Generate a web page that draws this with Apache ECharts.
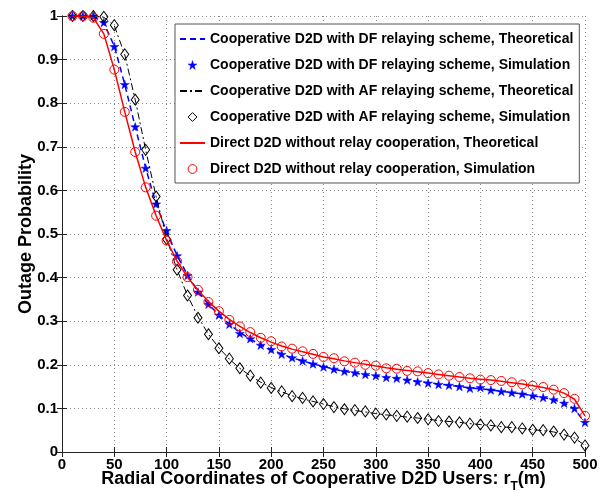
<!DOCTYPE html>
<html>
<head>
<meta charset="utf-8">
<script src="https://cdn.jsdelivr.net/npm/echarts@6/dist/echarts.min.js"></script>
<style>html,body{margin:0;padding:0;background:#fff;}#c{width:610px;height:493px;}</style>
</head>
<body>
<div id="c"></div>
<script>
var xs = [10,20,30,40,50,60,70,80,90,100,110,120,130,140,150,160,170,180,190,200,210,220,230,240,250,260,270,280,290,300,310,320,330,340,350,360,370,380,390,400,410,420,430,440,450,460,470,480,490,500];

var dfSim = [1.0,1.0,1.0,0.985,0.930,0.843,0.746,0.651,0.569,0.508,0.450,0.405,0.367,0.339,0.314,0.293,0.272,0.260,0.245,0.235,0.224,0.216,0.209,0.202,0.195,0.190,0.185,0.182,0.178,0.175,0.171,0.169,0.165,0.161,0.158,0.155,0.153,0.150,0.146,0.148,0.142,0.139,0.136,0.133,0.129,0.125,0.120,0.112,0.100,0.068];
var dfTheory = [1.0,1.0,0.999,0.984,0.931,0.843,0.746,0.651,0.569,0.505,0.451,0.406,0.368,0.339,0.314,0.293,0.274,0.259,0.246,0.235,0.225,0.216,0.209,0.202,0.196,0.190,0.185,0.181,0.177,0.174,0.171,0.168,0.165,0.162,0.159,0.156,0.153,0.150,0.147,0.145,0.142,0.139,0.136,0.133,0.129,0.125,0.120,0.112,0.099,0.066];

var afSim = [1.0,1.0,1.0,0.998,0.979,0.912,0.808,0.693,0.586,0.488,0.418,0.359,0.308,0.270,0.238,0.214,0.192,0.175,0.159,0.147,0.139,0.128,0.124,0.116,0.110,0.103,0.098,0.096,0.093,0.088,0.086,0.083,0.081,0.078,0.075,0.071,0.070,0.068,0.065,0.063,0.061,0.057,0.057,0.054,0.051,0.050,0.047,0.040,0.033,0.015];
var afTheory = [1.0,1.0,1.0,0.997,0.978,0.911,0.808,0.693,0.586,0.490,0.418,0.359,0.310,0.270,0.239,0.213,0.192,0.175,0.160,0.148,0.138,0.129,0.122,0.116,0.110,0.104,0.099,0.095,0.092,0.088,0.085,0.083,0.080,0.078,0.075,0.072,0.070,0.068,0.065,0.063,0.061,0.058,0.056,0.054,0.051,0.049,0.046,0.040,0.032,0.015];

var directSim = [1.0,1.0,0.996,0.959,0.877,0.780,0.688,0.607,0.542,0.485,0.437,0.401,0.372,0.344,0.323,0.303,0.288,0.275,0.262,0.254,0.242,0.237,0.231,0.225,0.218,0.215,0.208,0.205,0.200,0.198,0.192,0.191,0.186,0.185,0.181,0.178,0.175,0.172,0.169,0.166,0.165,0.163,0.160,0.155,0.152,0.149,0.143,0.135,0.122,0.083];
var directTheory = [1.0,1.0,0.996,0.959,0.877,0.780,0.688,0.607,0.542,0.485,0.438,0.401,0.371,0.345,0.323,0.304,0.288,0.274,0.262,0.252,0.243,0.236,0.230,0.224,0.218,0.214,0.209,0.205,0.201,0.197,0.193,0.190,0.187,0.184,0.181,0.178,0.175,0.172,0.169,0.167,0.165,0.162,0.159,0.156,0.152,0.148,0.143,0.135,0.121,0.083];

var seriesNames = [
  'Cooperative D2D with DF relaying scheme, Theoretical',
  'Cooperative D2D with DF relaying scheme, Simulation',
  'Cooperative D2D with AF relaying scheme, Theoretical',
  'Cooperative D2D with AF relaying scheme, Simulation',
  'Direct D2D without relay cooperation, Theoretical',
  'Direct D2D without relay cooperation, Simulation'
];

var yTicks = ['0','0.1','0.2','0.3','0.4','0.5','0.6','0.7','0.8','0.9','1'];

function pairs(ys){ return xs.map(function(x,i){ return [x, ys[i]]; }); }

var FONT = 'Liberation Sans, Arial, sans-serif';
var STAR = 'path://M50 0 L61.23 34.55 L97.55 34.55 L68.17 55.9 L79.39 90.45 L50 69.1 L20.61 90.45 L31.83 55.9 L2.45 34.55 L38.77 34.55 Z';

var axisLineStyle = {show:true, lineStyle:{color:'#222', width:1}};
var tickStyle = {show:true, inside:true, length:5, lineStyle:{color:'#222', width:1}};
var gridLine = {show:true, lineStyle:{color:'#8a8a8a', width:1, type:[1,3]}};

var legendData = seriesNames.map(function(n, i){
  if (i % 2 === 0) return {name:n, itemStyle:{opacity:0}};
  if (i === 1) return {name:n, lineStyle:{opacity:0}, itemStyle:{borderWidth:0.5}};
  return {name:n, lineStyle:{opacity:0}, itemStyle:{borderWidth:1}};
});

var chart = echarts.init(document.getElementById('c'), null, {renderer:'canvas'});
chart.setOption({
  animation:false,
  backgroundColor:'#fff',
  textStyle:{fontFamily:FONT},
  grid:{left:62, right:25, top:16, bottom:41, containLabel:false, outerBoundsMode:'none'},
  legend:{
    orient:'vertical', left:175, top:24,
    padding:[8,6,7,4],
    itemWidth:25, itemHeight:11, itemGap:12,
    backgroundColor:'#fff', borderColor:'#555', borderWidth:1,
    textStyle:{fontFamily:FONT, fontSize:14, fontWeight:'bold', color:'#000'},
    data:legendData
  },
  xAxis:[{
    type:'value', min:0, max:500, interval:50, position:'bottom',
    axisLine:axisLineStyle, axisTick:tickStyle, splitLine:gridLine,
    axisLabel:{color:'#000', fontSize:15, fontWeight:'bold', fontFamily:FONT, margin:5},
    name:'{a|Radial Coordinates of Cooperative D2D Users: r}{s|T}{a|(m)}',
    nameLocation:'middle', nameGap:17, nameMoveOverlap:false,
    nameTextStyle:{rich:{
      a:{fontSize:18, fontWeight:'bold', color:'#000', fontFamily:FONT, lineHeight:20},
      s:{fontSize:12, fontWeight:'bold', color:'#000', fontFamily:FONT, lineHeight:12, padding:[16,0,0,0]}
    }}
  },{
    type:'value', min:0, max:500, interval:50, position:'top',
    axisLine:axisLineStyle, axisTick:tickStyle, splitLine:{show:false}, axisLabel:{show:false}
  }],
  yAxis:[{
    type:'value', min:0, max:1, interval:0.1, position:'left',
    axisLine:axisLineStyle, axisTick:tickStyle, splitLine:gridLine,
    axisLabel:{color:'#000', fontSize:15, fontWeight:'bold', fontFamily:FONT, margin:4,
      formatter:function(v){ return yTicks[Math.round(v*10)]; }},
    name:'Outage Probability', nameLocation:'middle', nameGap:27, nameMoveOverlap:false,
    nameTextStyle:{fontSize:18, fontWeight:'bold', color:'#000', fontFamily:FONT}
  },{
    type:'value', min:0, max:1, interval:0.1, position:'right',
    axisLine:axisLineStyle, axisTick:tickStyle, splitLine:{show:false}, axisLabel:{show:false}
  }],
  series:[
    {name:seriesNames[0], type:'line', data:pairs(dfTheory), symbol:'none', z:2,
      lineStyle:{color:'#0000ff', width:1.5, type:[6,4]}, itemStyle:{color:'#0000ff'}},
    {name:seriesNames[1], type:'line', data:pairs(dfSim), symbol:STAR, symbolSize:9, symbolKeepAspect:true, showSymbol:true, z:3,
      lineStyle:{opacity:0}, itemStyle:{color:'#0000ff', borderColor:'#0000ff', borderWidth:0.5}},
    {name:seriesNames[2], type:'line', data:pairs(afTheory), symbol:'none', z:4,
      lineStyle:{color:'#000', width:1, type:[7,3,2,3]}, itemStyle:{color:'#000'}},
    {name:seriesNames[3], type:'line', data:pairs(afSim), symbol:'diamond', symbolSize:[8,11], showSymbol:true, z:5,
      lineStyle:{opacity:0}, itemStyle:{color:'none', borderColor:'#000', borderWidth:1}},
    {name:seriesNames[4], type:'line', data:pairs(directTheory), symbol:'none', z:6,
      lineStyle:{color:'#ff0000', width:1.5, type:'solid'}, itemStyle:{color:'#ff0000'}},
    {name:seriesNames[5], type:'line', data:pairs(directSim), symbol:'circle', symbolSize:9, showSymbol:true, z:7,
      lineStyle:{opacity:0}, itemStyle:{color:'none', borderColor:'#ff0000', borderWidth:1}}
  ]
});
</script>
</body>
</html>
